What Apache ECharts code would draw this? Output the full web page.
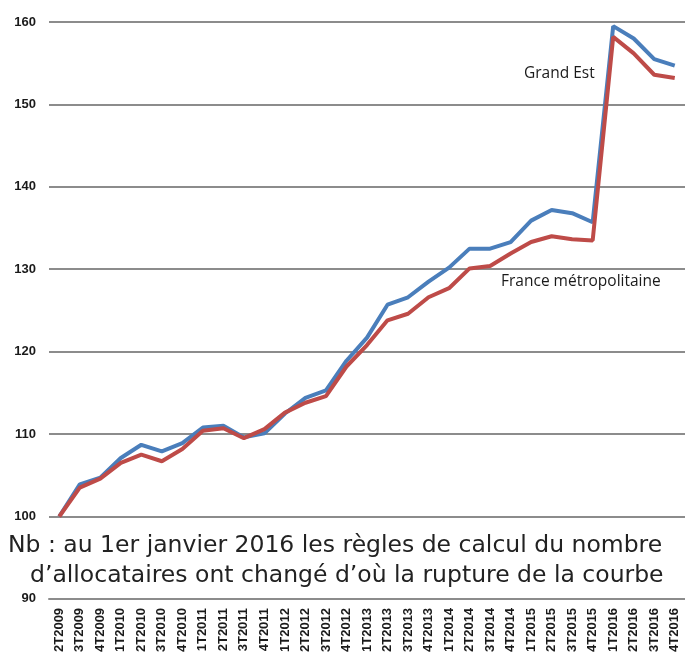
<!DOCTYPE html>
<html>
<head>
<meta charset="utf-8">
<script src="https://cdn.jsdelivr.net/npm/echarts@6/dist/echarts.min.js"></script>
<style>
  html, body { margin: 0; padding: 0; background: #fff; }
  #box { width: 685px; height: 655px; }
</style>
</head>
<body>
<div id="box"></div>
<script>
// trimestres
const categories = ["2T2009","3T2009","4T2009",
  "1T2010","2T2010","3T2010","4T2010",
  "1T2011","2T2011","3T2011","4T2011",
  "1T2012","2T2012","3T2012","4T2012",
  "1T2013","2T2013","3T2013","4T2013",
  "1T2014","2T2014","3T2014","4T2014",
  "1T2015","2T2015","3T2015","4T2015",
  "1T2016","2T2016","3T2016","4T2016"]

// indice base 100 au 2T2009
const grandEst = [100, 103.9, 104.7, 107.1, 108.7, 107.9, 108.9, 110.8, 111.0, 109.6, 110.1,
  112.5, 114.4, 115.3, 118.9, 121.7, 125.7, 126.6, 128.5, 130.2, 132.5, 132.5, 133.3,
  135.9, 137.2, 136.8, 135.7, 159.5, 158.0, 155.5, 154.7]
const france = [100, 103.5, 104.6, 106.5, 107.5, 106.7, 108.2, 110.4, 110.7, 109.5, 110.6,
  112.6, 113.8, 114.6, 118.2, 120.8, 123.8, 124.6, 126.6, 127.7, 130.1, 130.4, 131.9,
  133.3, 134.0, 133.65, 133.5, 158.2, 156.2, 153.6, 153.2]

const yTicks = [90, 100, 110, 120, 130, 140, 150, 160]

const noteLine1 = "Nb : au 1er janvier 2016 les règles de calcul du nombre"
const noteLine2 = "d’allocataires ont changé d’où la rupture de la courbe"

const myeCharts = echarts.init(document.getElementById('box'))
const option = {
  animation: false,
  grid: { left: 49, right: 0, top: 22, bottom: 54 },
  xAxis: {
    type: 'category',
    data: categories,
    boundaryGap: true,
    axisLine: { lineStyle: { color: '#8c8c8c', width: 2 } },
    axisTick: { interval: 3, length: 5, lineStyle: { color: '#8c8c8c', width: 2 } },
    axisLabel: {
      interval: 0, rotate: 90, margin: 9,
      color: '#1a1a1a', fontWeight: 'bold', fontSize: 13,
      fontFamily: 'Liberation Sans'
    }
  },
  yAxis: {
    type: 'value',
    min: yTicks[0],
    max: yTicks[yTicks.length - 1],
    interval: 10,
    axisLine: { show: false },
    axisTick: { show: false },
    axisLabel: {
      margin: 13, color: '#1a1a1a', fontWeight: 'bold', fontSize: 13,
      fontFamily: 'Liberation Sans'
    },
    splitLine: { lineStyle: { color: '#8c8c8c', width: 2 } }
  },
  series: [
    {
      name: 'Grand Est', type: 'line', data: grandEst,
      showSymbol: false, symbol: 'none',
      lineStyle: { color: '#4a7ebb', width: 4 }
    },
    {
      name: 'France métropolitaine', type: 'line', data: france,
      showSymbol: false, symbol: 'none',
      lineStyle: { color: '#be4b48', width: 4 }
    }
  ],
  graphic: [
    { type: 'text', left: 524, top: 66,
      style: { text: 'Grand Est', fill: '#1a1a1a', font: '15.5px "Open Sans"' } },
    { type: 'text', left: 501, top: 274,
      style: { text: 'France métropolitaine', fill: '#1a1a1a', font: '15.5px "Open Sans"' } },
    // note sur la rupture de série
    { type: 'text', x: 8, y: 534,
      style: { text: noteLine1, fill: '#222', font: '23.5px "DejaVu Sans"' } },
    { type: 'text', x: 30, y: 564,
      style: { text: noteLine2, fill: '#222', font: '23.5px "DejaVu Sans"' } }
  ]
}
myeCharts.setOption(option)
window.onresize = function () {
  myeCharts.resize()
}
</script>
</body>
</html>
